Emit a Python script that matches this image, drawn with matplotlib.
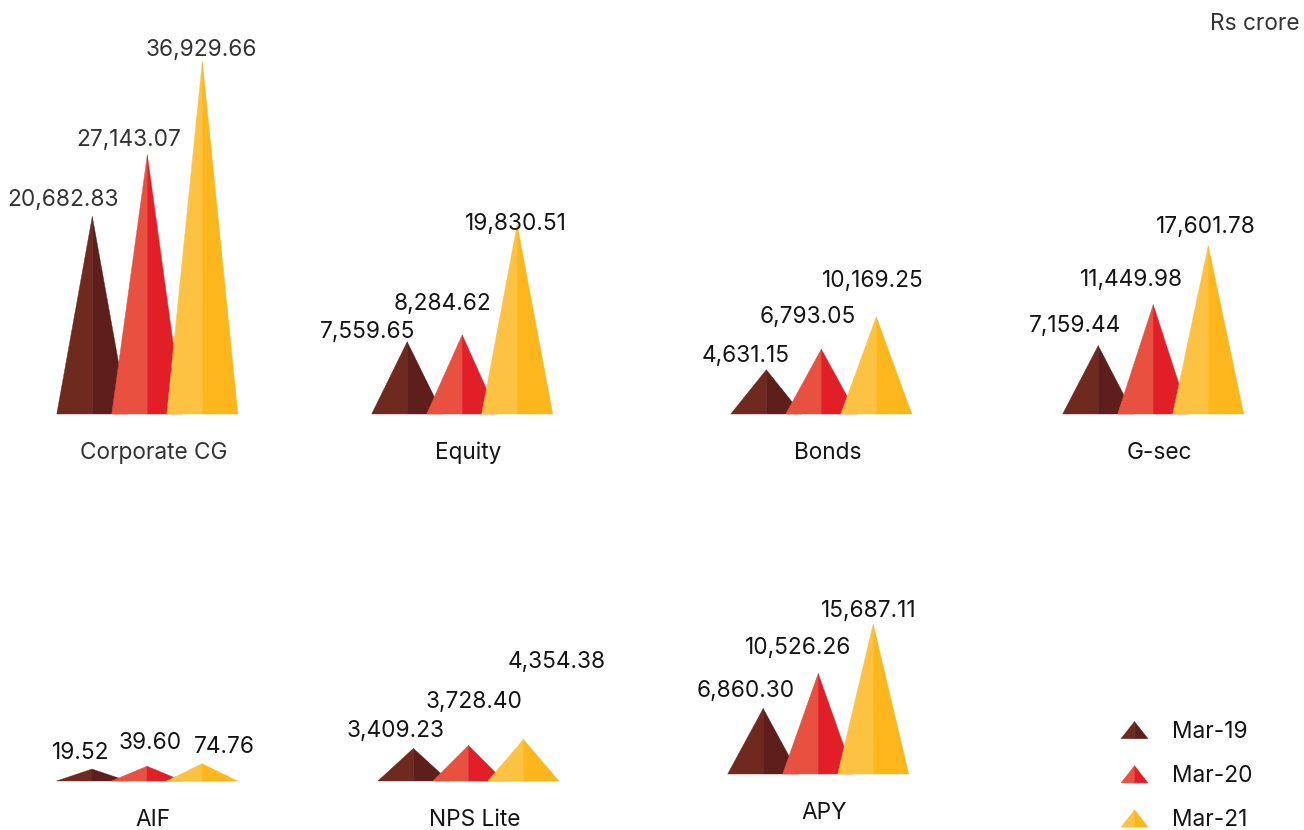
import matplotlib
matplotlib.use("Agg")
import matplotlib.pyplot as plt
from matplotlib.patches import Polygon, Patch
from matplotlib.legend_handler import HandlerBase

# ---------------- data ----------------
categories = ["Corporate CG", "Equity", "Bonds", "G-sec", "AIF", "NPS Lite", "APY"]
series = ["Mar-19", "Mar-20", "Mar-21"]
mar19 = [20682.83, 7559.65, 4631.15, 7159.44, 19.52, 3409.23, 6860.30]
mar20 = [27143.07, 8284.62, 6793.05, 11449.98, 39.60, 3728.40, 10526.26]
mar21 = [36929.66, 19830.51, 10169.25, 17601.78, 74.76, 4354.38, 15687.11]
unit_label = "Rs crore"

# ---------------- style / layout ----------------
W, H = 1304, 830
plt.rcParams['font.family'] = ['Inter', 'DejaVu Sans']
FS = 16.3
colors_left = ["#6F2A20", "#E8503F", "#FEC243"]
colors_right = ["#5E1F1C", "#E21E27", "#FDB61B"]

panel_cx = [147.3, 462.2, 821.3, 1153.2, 147.0, 468.4, 818.2]   # px, middle apex
panel_base = [414, 414, 414, 414, 781, 781, 774]                 # px from top
panel_log = [False, False, False, False, True, False, False]
text_col = ["#333333"] + ["#141414"] * 6
SPACING = 55.0          # px between apexes
HALF_W = 35.5 / SPACING  # triangle half width in x units
PX_PER_UNIT = 0.00955   # px per crore (linear panels)
AX_H = 390              # axes height px
LOG_AX_H = 60
LOG_PX_PER_DEC = 9.23

# value label offsets (px) relative to apex: (dx, dy up)
label_off = [
    [(-29, 10), (-19, 9), (-1, 5)],
    [(-39.5, 4), (-19.3, 25), (-1, -5)],
    [(-21, 7.6), (-14, 26.3), (-3, 29.7)],
    [(-23, 14), (-21.3, 18.3), (-2, 12.7)],
    [(-11.3, 10), (3.5, 17.6), (22.7, 10.4)],
    [(-17.7, 11), (5.7, 37.7), (33.2, 71.6)],
    [(-17.7, 11.6), (-20.4, 19.4), (-4.5, 7.3)],
]

fig = plt.figure(figsize=(W / 100, H / 100), dpi=100)
fig.patch.set_facecolor("white")

values = [mar19, mar20, mar21]


def px_axes(left, top, width, height):
    return fig.add_axes([left / W, 1 - (top + height) / H, width / W, height / H])


for p, cat in enumerate(categories):
    cx = panel_cx[p]
    base_px = panel_base[p]
    h = LOG_AX_H if panel_log[p] else AX_H
    ax = px_axes(cx - 2 * SPACING, base_px - h, 4 * SPACING, h)
    ax.set_xlim(-1, 3)
    if panel_log[p]:
        ax.set_yscale("log")
        ax.set_ylim(1, 10 ** (h / LOG_PX_PER_DEC))
    else:
        ax.set_ylim(0, h / PX_PER_UNIT)
    ax.set_axis_off()
    ybase = ax.get_ylim()[0]
    for j in range(len(series)):
        v = values[j][p]
        x = j
        left = Polygon([[x - HALF_W, ybase], [x, v], [x, ybase]], closed=True,
                       facecolor=colors_left[j], edgecolor=colors_left[j], lw=0.3,
                       clip_on=False, zorder=2 + j)
        right = Polygon([[x, ybase], [x, v], [x + HALF_W, ybase]], closed=True,
                        facecolor=colors_right[j], edgecolor=colors_right[j], lw=0.3,
                        clip_on=False, zorder=2 + j)
        ax.add_patch(left)
        ax.add_patch(right)
        dx, dy = label_off[p][j]
        ax.annotate(f"{v:,.2f}", xy=(x, v), xytext=(dx, dy), textcoords="offset pixels",
                    ha="center", va="baseline", fontsize=FS, color=text_col[p],
                    annotation_clip=False, zorder=10)
    ax.annotate(cat, xy=(1, ybase), xytext=(6, -45), textcoords="offset pixels",
                ha="center", va="baseline", fontsize=FS, color=text_col[p],
                annotation_clip=False)

fig.text(1300 / W, 1 - 30 / H, unit_label, ha="right", va="baseline",
         fontsize=FS, color="#333333")


class SplitTriangle(HandlerBase):
    def __init__(self, cl, cr):
        super().__init__()
        self.cl = cl
        self.cr = cr

    def create_artists(self, legend, orig_handle, xdescent, ydescent, width, height,
                       fontsize, trans):
        x0, y0 = -xdescent, -ydescent
        l = Polygon([[x0, y0], [x0 + width / 2, y0 + height], [x0 + width / 2, y0]],
                    closed=True, facecolor=self.cl, edgecolor=self.cl, lw=0.3, transform=trans)
        r = Polygon([[x0 + width / 2, y0], [x0 + width / 2, y0 + height], [x0 + width, y0]],
                    closed=True, facecolor=self.cr, edgecolor=self.cr, lw=0.3, transform=trans)
        return [l, r]


proxies = [Patch(label=s) for s in series]
hmap = {proxies[j]: SplitTriangle(colors_left[j], colors_right[j]) for j in range(3)}
fs_px = FS * 100 / 72
leg = fig.legend(handles=proxies, labels=series, handler_map=hmap,
                 loc="upper left", bbox_to_anchor=(1121 / W, 1 - 721 / H),
                 frameon=False, fontsize=FS, borderpad=0, borderaxespad=0,
                 handlelength=27 / fs_px, handleheight=18 / fs_px,
                 handletextpad=24 / fs_px, labelspacing=0.98)
for t in leg.get_texts():
    t.set_color("#141414")

fig.savefig("out.png", dpi=100, facecolor="white")
